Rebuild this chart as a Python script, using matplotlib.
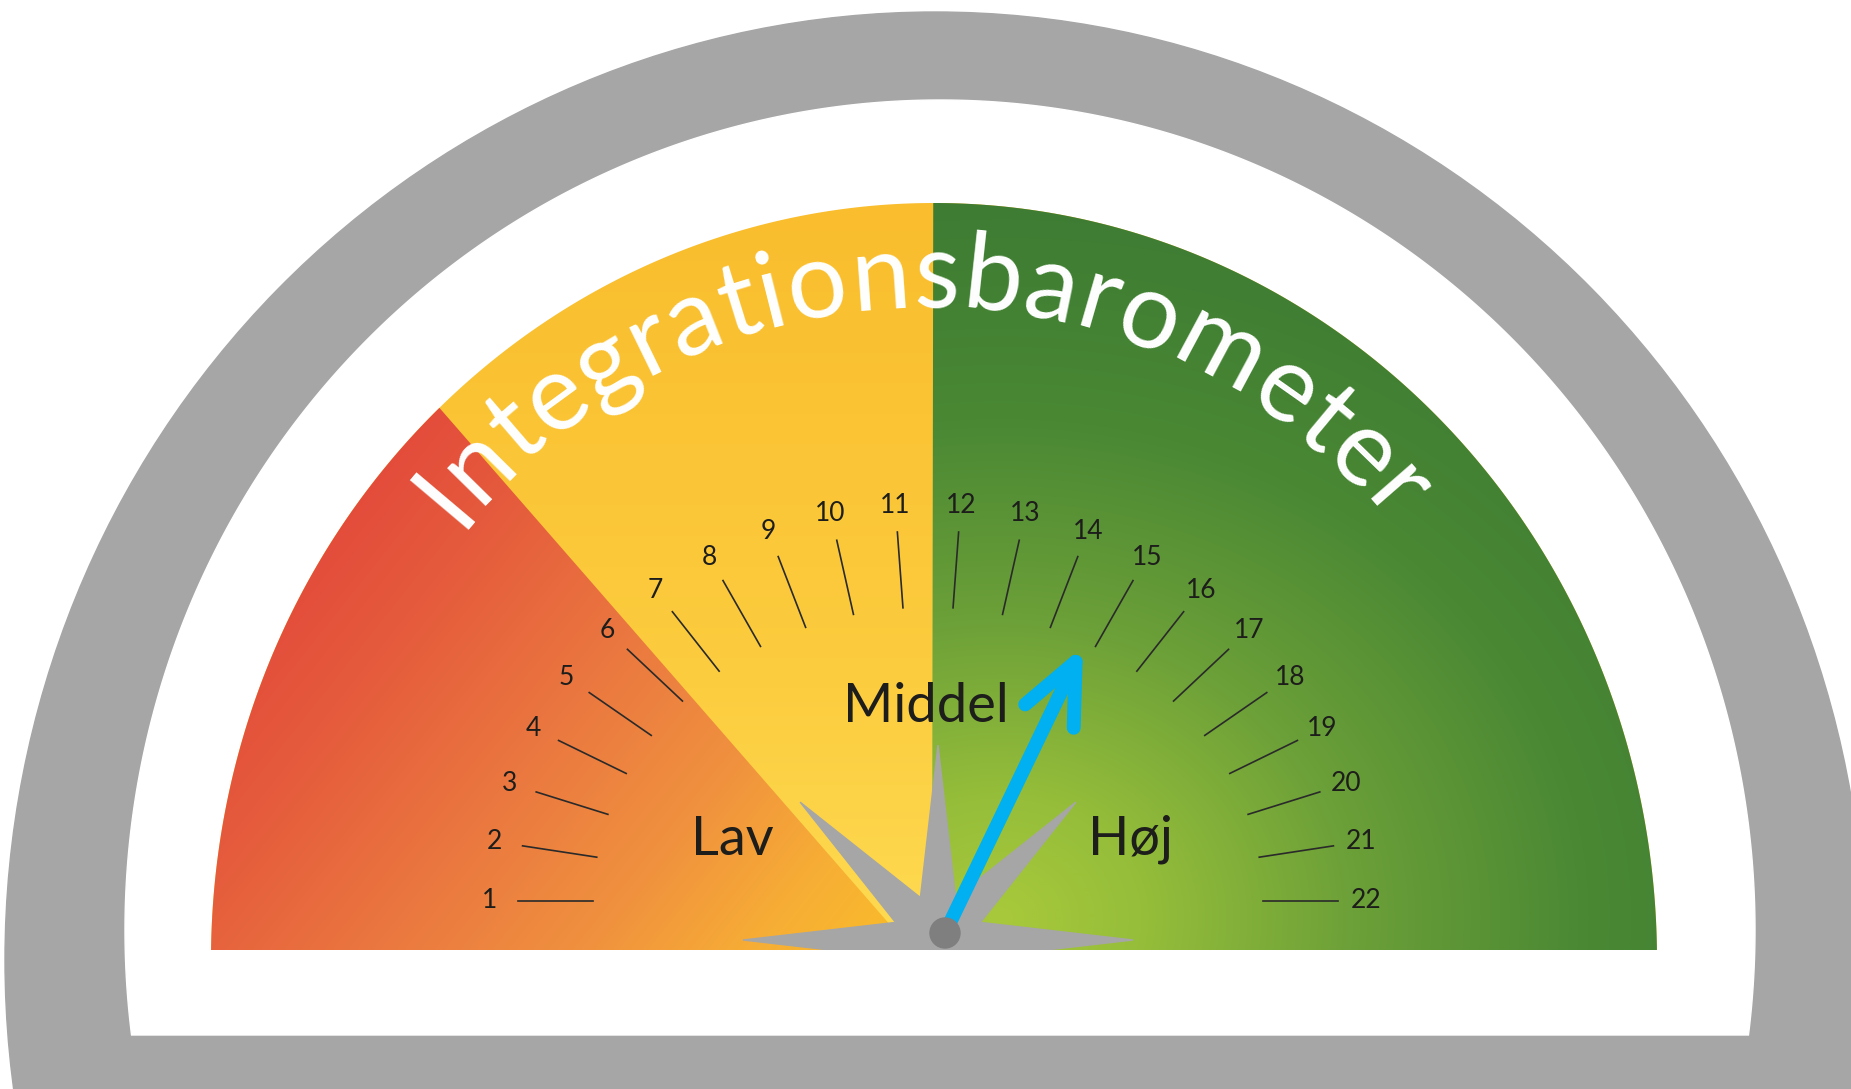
import numpy as np
import matplotlib
matplotlib.use('Agg')
import matplotlib.pyplot as plt
from matplotlib import patches
from matplotlib.colors import to_rgb
from matplotlib.textpath import TextToPath
from matplotlib.font_manager import FontProperties

W, H = 1851, 1089

# chart content
title = 'Integrationsbarometer'
tick_values = list(range(1, 23))
tick_labels = [str(v) for v in tick_values]
zone_names = ['Lav', 'Middel', 'Høj']
needle_value = 14.5

plt.rcParams['font.family'] = ['Lato', 'DejaVu Sans']

fig = plt.figure(figsize=(W / 100, H / 100), dpi=100)
ax = fig.add_axes([0, 0, 1, 1])
ax.axis('off')


def arc(cx, cy, a, b, t0, t1, n=1500):
    t = np.linspace(t0, t1, n)
    return np.column_stack([cx + a * np.cos(t), cy + b * np.sin(t)])


def scale_angle(v):
    # value on the gauge -> angle (radians), 1 at the left, 22 at the right
    return np.pi - (v - tick_values[0]) / (tick_values[-1] - tick_values[0]) * np.pi


def grad(s, pos, cols):
    cols = np.array([to_rgb(c) for c in cols])
    return np.stack([np.interp(s, pos, cols[:, k]) for k in range(3)], axis=-1)


# frame
ax.add_patch(patches.Ellipse((935, 129), 1860, 1896, color='#a6a6a6', zorder=1))
t0 = np.arcsin((54 - 159) / 830)
ax.add_patch(patches.Polygon(arc(940, 159, 815, 830, t0, np.pi - t0), closed=True,
                             color='white', zorder=2))

# dial face, split in three zones
base_y = 139
split_x, split_ang = 912, np.deg2rad(131)   # Lav / Middel edge
mid_x = 932                                  # Middel / Hoej edge
t0 = np.arcsin((base_y - 129) / 757)
rim = arc(934, 129, 723, 757, t0, np.pi - t0)
side = np.cos(split_ang) * (rim[:, 1] - base_y) - np.sin(split_ang) * (rim[:, 0] - split_x)

zone_polys = [
    np.vstack([[split_x, base_y], rim[side > 0]]),
    rim,
    np.vstack([[mid_x, base_y], rim[rim[:, 0] >= mid_x]]),
]

xs = np.arange(200, 1672, 2.0)
ys = np.arange(base_y - 4, 892, 2.0)
X, Y = np.meshgrid(xs, ys)

zone_imgs = [
    # Lav: linear red -> yellow
    grad((X - 250) * 0.78 - (Y - 600) * 0.62, [0, 200, 400, 550, 680, 780],
         ['#e2413a', '#e55a3c', '#eb7a40', '#f0923e', '#f7ae35', '#f9bb2b']),
    # Middel: vertical yellow (drawn over the whole dial, under the others)
    grad(Y, [139, 400, 890], ['#fedb52', '#fccd3f', '#f9bd2d']),
    # Hoej: radial green
    grad(np.hypot((X - 1000) * 0.85, Y - 170), [0, 120, 300, 500, 700, 900],
         ['#a8c93a', '#96be3a', '#6ca038', '#4a8834', '#3e7d33', '#3a7a32']),
]
for poly, img, z in zip(zone_polys, zone_imgs, [3.2, 3.0, 3.2]):
    clip = patches.Polygon(poly, closed=True, fc='none', ec='none', zorder=z)
    ax.add_patch(clip)
    im = ax.imshow(img, extent=(xs[0], xs[-1], ys[0], ys[-1]), origin='lower',
                   interpolation='bilinear', aspect='auto', zorder=z)
    im.set_clip_path(clip)

# ticks and tick labels
cx, cy = 928, 188
for v, lab in zip(tick_values, tick_labels):
    t = scale_angle(v)
    ax.plot([cx + 335 * np.cos(t), cx + 410 * np.cos(t)],
            [cy + 294 * np.sin(t), cy + 370 * np.sin(t)],
            color='#2a2a2a', lw=1.2, zorder=5)
    ax.text(cx + 438 * np.cos(t), cy + 397 * np.sin(t), lab, fontsize=19,
            color='#1d1d1b', ha='center', va='center', zorder=6)

# zone names
for name, dx, by in zip(zone_names, [-196, -2, 202], [234, 367, 234]):
    ax.text(cx + dx, by, name, fontsize=39, color='#1d1d1b', ha='center',
            va='baseline', zorder=6)

# star
sx, sy = 938, 149
k = np.arange(16)
r = np.where(k % 2 == 0, 195, 46)
star = patches.Polygon(np.column_stack([sx + r * np.cos(k * np.pi / 8),
                                        sy + r * np.sin(k * np.pi / 8)]),
                       closed=True, color='#a6a6a6', zorder=7)
ax.add_patch(star)
star.set_clip_path(patches.Rectangle((0, base_y), W, H, transform=ax.transData))

# needle
hx, hy = 945, 156
th = scale_angle(needle_value)
tx, ty = hx + 301 * np.cos(th), hy + 301 * np.sin(th)
ax.plot([hx, tx], [hy, ty], color='#00b0f0', lw=10, solid_capstyle='round', zorder=8)
b1 = th + np.pi - 0.42
b2 = th + np.pi + 0.42
ax.plot([tx + 66 * np.cos(b1), tx, tx + 66 * np.cos(b2)],
        [ty + 66 * np.sin(b1), ty, ty + 66 * np.sin(b2)],
        color='#00b0f0', lw=10, solid_capstyle='round', solid_joinstyle='round', zorder=8)
ax.add_patch(patches.Circle((hx, hy), 15, color='#7f7f7f', zorder=9))

# curved title
fp = FontProperties(family='Lato', size=76)
ttp = TextToPath()
pre = [0.0] + [ttp.get_text_width_height_descent(title[:i], fp, ismath=False)[0] * 100 / 72
               for i in range(1, len(title) + 1)]
centers = np.array([(pre[i] + pre[i + 1]) / 2 for i in range(len(title))])
tcx, tcy, tr = 925, 185, 597
a_start, a_end = np.deg2rad(139.8), np.deg2rad(41.0)
angs = a_start - (centers - centers[0]) / (centers[-1] - centers[0]) * (a_start - a_end)
for ch, a in zip(title, angs):
    ax.text(tcx + tr * np.cos(a), tcy + tr * np.sin(a), ch, fontproperties=fp,
            color='white', ha='center', va='baseline', rotation=np.rad2deg(a) - 90,
            rotation_mode='anchor', zorder=6)

ax.set_xlim(0, W)
ax.set_ylim(0, H)
fig.savefig('out.png', dpi=100, facecolor='white')
